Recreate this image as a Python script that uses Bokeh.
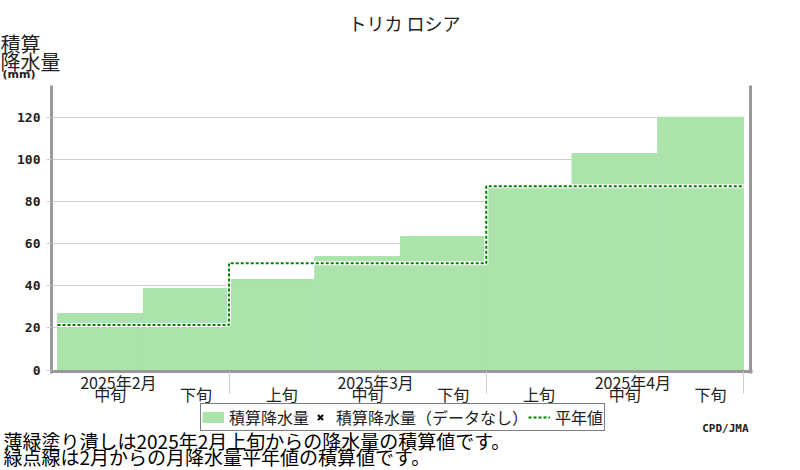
import math
from bokeh.plotting import figure
from bokeh.models import (Range1d, FixedTicker, LinearAxis, Legend, LegendItem,
                          ColumnDataSource, CustomJSTickFormatter)
from bokeh.core.properties import value
from bokeh.embed import file_html
from bokeh.resources import INLINE

# ---------------- data ----------------
title_text = "トリカ ロシア"
months = ["2025年2月", "2025年3月", "2025年4月"]
month_dekads = [2, 3, 3]
dekads = ["中旬", "下旬", "上旬", "中旬", "下旬", "上旬", "中旬", "下旬"]
accum_precip = [26.8, 38.7, 42.9, 53.8, 63.3, 86.2, 102.7, 119.9]
normal_accum = [21.3, 50.6, 87.1]
y_ticks = [0, 20, 40, 60, 80, 100, 120]
y_label_lines = ["積算", "降水量"]
y_unit = "(mm)"
legend_labels = ["積算降水量", "積算降水量（データなし）", "平年値"]
notes = ["薄緑塗り潰しは2025年2月上旬からの降水量の積算値です。",
         "緑点線は2月からの月降水量平年値の積算値です。"]
credit = "CPD/JMA"

# ---------------- styling / layout constants (page pixels) ----------------
W, H = 800, 470
JP = "Noto Sans CJK JP"
TXT = "#222222"
BAR_FILL = "#abe3ab"
NORMAL_COLOR = "#008000"
AXIS_GRAY = "#999999"
LIGHT_GRAY = "#cccccc"
GRID_GRAY = "#d0d0d0"

n = len(accum_precip)
BAR0_PX, BARN_PX = 57, 743
XS = (BARN_PX - BAR0_PX) / n
Y0_PX, Y120_PX = 369.5, 116.5
YS = (Y0_PX - Y120_PX) / 120.0


def fx(px):
    return (px - BAR0_PX) / XS


def fy(py):
    return (Y0_PX - py) / YS


p = figure(width=W, height=H, output_backend="svg", toolbar_location=None,
           title=None,
           x_range=Range1d(fx(0), fx(W)), y_range=Range1d(fy(H), fy(0)),
           min_border=0, min_border_left=0, min_border_right=0,
           min_border_top=0, min_border_bottom=0)
p.outline_line_color = None
p.background_fill_color = "white"
p.border_fill_color = "white"

bounds = [0]
for k in month_dekads:
    bounds.append(bounds[-1] + k)

# ---- y axis (left) ----
yax = p.yaxis[0]
yax.fixed_location = fx(51)
yax.bounds = (fy(372.5), fy(85))
yax.ticker = FixedTicker(ticks=y_ticks)
yax.major_tick_out = 5
yax.major_tick_in = 0
yax.major_tick_line_color = LIGHT_GRAY
yax.minor_tick_line_color = None
yax.axis_line_color = AXIS_GRAY
yax.axis_line_width = 3
yax.major_label_text_font = "DejaVu Sans Mono"
yax.major_label_text_font_style = "bold"
yax.major_label_text_font_size = "13px"
yax.major_label_text_color = TXT
yax.major_label_standoff = 6

# ---- right axis line ----
rax = LinearAxis(fixed_location=fx(750), bounds=(fy(372.5), fy(85)),
                 ticker=FixedTicker(ticks=[]), axis_line_color=AXIS_GRAY,
                 axis_line_width=3, major_tick_line_color=None,
                 minor_tick_line_color=None, major_tick_out=0, major_tick_in=0)
p.add_layout(rax, "right")

# ---- x axis: line + month separators ----
xax = p.xaxis[0]
xax.fixed_location = fy(371)
xax.bounds = (fx(49.5), fx(752))
xax.ticker = FixedTicker(ticks=[], minor_ticks=bounds[1:])
xax.axis_line_color = AXIS_GRAY
xax.axis_line_width = 3
xax.major_tick_line_color = None
xax.major_tick_out = 0
xax.major_tick_in = 0
xax.minor_tick_out = 22
xax.minor_tick_in = 0
xax.minor_tick_line_color = LIGHT_GRAY

# ---- dekad labels axis ----
DX = 10 / XS
dekad_pos = [i + 0.5 + DX for i in range(n)]
dax = LinearAxis(fixed_location=fy(371), ticker=FixedTicker(ticks=dekad_pos),
                 formatter=CustomJSTickFormatter(args=dict(labels=dekads),
                                                 code="return labels[index];"),
                 axis_line_color=None, major_tick_line_color=None,
                 minor_tick_line_color=None, major_tick_out=0, major_tick_in=0,
                 major_label_standoff=10, major_label_text_font=JP,
                 major_label_text_font_size="16px", major_label_text_color=TXT)
p.add_layout(dax, "below")

# ---- month labels axis ----
month_pos = []
for m in range(len(months)):
    seg = dekads[bounds[m]:bounds[m + 1]]
    month_pos.append(bounds[m] + seg.index("中旬") + 0.5 + DX + 8 / XS)
max_ = LinearAxis(fixed_location=fy(369.5), ticker=FixedTicker(ticks=month_pos),
                  formatter=CustomJSTickFormatter(args=dict(labels=months),
                                                  code="return labels[index];"),
                  axis_line_color=None, major_tick_line_color=None,
                  minor_tick_line_color=None, major_tick_out=0, major_tick_in=0,
                  major_label_standoff=0, major_label_text_font=JP,
                  major_label_text_font_size="16px", major_label_text_color=TXT)
p.add_layout(max_, "below")

# ---- grid ----
p.xgrid.visible = False
yg = p.ygrid[0]
yg.ticker = FixedTicker(ticks=y_ticks)
yg.grid_line_color = GRID_GRAY
yg.grid_line_width = 1
if "cross_bounds" in yg.properties():
    yg.cross_bounds = (fx(52), fx(744))
else:
    yg.visible = False
    p.segment(x0=[fx(52)] * len(y_ticks), x1=[fx(744)] * len(y_ticks),
              y0=y_ticks, y1=y_ticks, line_color=GRID_GRAY, line_width=1,
              level="underlay")

# ---- bars ----
src = ColumnDataSource(dict(left=list(range(n)), right=[i + 1 for i in range(n)],
                            top=accum_precip))
bars = p.quad(left="left", right="right", bottom=0, top="top", source=src,
              fill_color=BAR_FILL, line_color=BAR_FILL, line_width=1)
# legend swatch for the bars (a flat band, as in the original key)
bar_key = p.line(x=[math.nan], y=[math.nan], line_color=BAR_FILL, line_width=11,
                 line_cap="butt")

# ---- missing data marker (no missing data in this chart) ----
miss = p.scatter(x=[math.nan], y=[math.nan], marker="x", size=8,
                 line_color="#000000", line_width=2)

# ---- normal (step line) ----
nx, ny = [], []
for m, v in enumerate(normal_accum):
    nx += [bounds[m], bounds[m + 1]]
    ny += [v, v]
p.line(nx, ny, line_color="white", line_width=4)
norm = p.line(nx, ny, line_color=NORMAL_COLOR, line_width=2, line_dash="3 2")


# ---- texts ----
def txt(x_px, y_px, t, font=JP, size="16px", align="left", style="normal",
        color=TXT):
    p.text(x=[fx(x_px)], y=[fy(y_px)], text=[t], text_font=value(font),
           text_font_size=value(size), text_font_style=value(style),
           text_color=color, text_align=value(align),
           text_baseline=value("middle"))


txt(404, 22.5, title_text, size="18px", align="center")
txt(0, 42.5, y_label_lines[0], size="20px")
txt(0, 60.5, y_label_lines[1], size="20px")
txt(2, 73.5, y_unit, font="DejaVu Sans", size="11px", style="bold")
txt(748, 427.5, credit, font="DejaVu Sans Mono", size="11px", align="right",
    style="bold")
txt(3, 439.5, notes[0], size="19px", color="#000000")
txt(3, 456, notes[1], size="19px", color="#000000")

# ---- legend ----
legend = Legend(items=[LegendItem(label=value(legend_labels[0]), renderers=[bar_key]),
                       LegendItem(label=value(legend_labels[1]), renderers=[miss]),
                       LegendItem(label=value(legend_labels[2]), renderers=[norm])],
                orientation="horizontal", location=(200, H - 431),
                glyph_width=22, glyph_height=18, label_standoff=5, spacing=0,
                padding=1, margin=0, border_line_color="black", border_line_width=1,
                background_fill_color="white", background_fill_alpha=1,
                label_text_font=JP, label_text_font_size="16px",
                label_text_color=TXT, label_height=14)
p.add_layout(legend)

open("out.html", "w").write(file_html(p, INLINE))
